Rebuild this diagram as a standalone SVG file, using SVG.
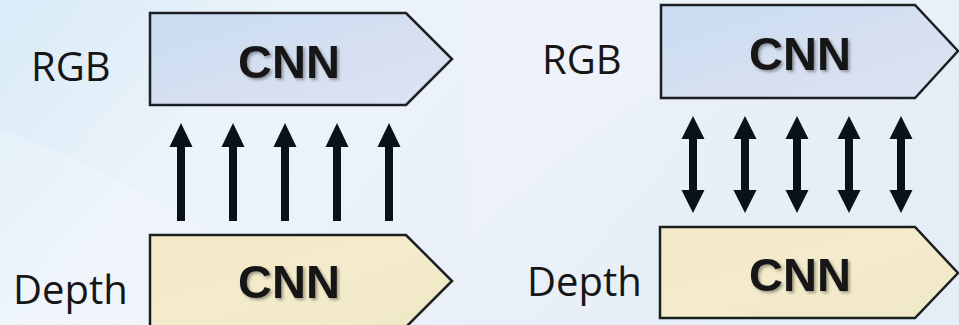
<svg xmlns="http://www.w3.org/2000/svg" width="959" height="325" viewBox="0 0 959 325">
  <defs>
    <linearGradient id="bg" x1="0" y1="0" x2="1" y2="0.3">
      <stop offset="0" stop-color="#d8ebf7"/>
      <stop offset="0.3" stop-color="#ecf3fa"/>
      <stop offset="0.6" stop-color="#ebf1f8"/>
      <stop offset="1" stop-color="#e5edf6"/>
    </linearGradient>
    <linearGradient id="blueFill" x1="0" y1="0" x2="1" y2="1">
      <stop offset="0" stop-color="#c8dcf1"/>
      <stop offset="0.5" stop-color="#d5dff1"/>
      <stop offset="1" stop-color="#dde3f2"/>
    </linearGradient>
    <linearGradient id="yellowFill" x1="0" y1="0" x2="1" y2="1">
      <stop offset="0" stop-color="#f1e9c6"/>
      <stop offset="0.5" stop-color="#f3ebcb"/>
      <stop offset="1" stop-color="#efe8c6"/>
    </linearGradient>
    <filter id="shadow" x="-10%" y="-10%" width="130%" height="140%">
      <feDropShadow dx="2" dy="2" stdDeviation="1.5" flood-color="#000" flood-opacity="0.35"/>
    </filter>
    <path id="upArrow" d="M0,123 L11.5,147 L4,147 L4,221 L-4,221 L-4,147 L-11.5,147 Z"/>
    <path id="dblArrow" d="M0,116 L11.5,139 L4,139 L4,190 L11.5,190 L0,213 L-11.5,190 L-4,190 L-4,139 L-11.5,139 Z"/>
  </defs>
  <style>
    .box-blue { fill: url(#blueFill); stroke: #1c1f22; stroke-width: 2.5; stroke-linejoin: miter; }
    .box-yellow { fill: url(#yellowFill); stroke: #1c1f22; stroke-width: 2.5; stroke-linejoin: miter; }
    .cnn { font-family: "Liberation Sans", Arial, sans-serif; font-weight: bold; font-size: 47px; fill: #151515; text-anchor: middle; filter: url(#shadow); }
    .label { font-family: "Open Sans", "Liberation Sans", sans-serif; font-size: 40px; fill: #161616; }
    .arrow { fill: #0b1118; }
  </style>

  <rect width="959" height="325" fill="url(#bg)"/>
  <path d="M0,130 C120,170 260,260 340,325 L0,325 Z" fill="#ffffff" opacity="0.18"/>
  <path d="M470,240 C560,150 660,80 760,40 L959,40 L959,0 L470,0 Z" fill="#ffffff" opacity="0.15"/>

  <g id="left-rgb-label"><text class="label" x="31" y="81">RGB</text></g>
  <g id="left-depth-label"><text class="label" x="13" y="304">Depth</text></g>
  <g id="right-rgb-label"><text class="label" x="542" y="74">RGB</text></g>
  <g id="right-depth-label"><text class="label" x="527" y="296">Depth</text></g>

  <g id="left-rgb-cnn">
    <polygon class="box-blue" points="150,13 406,13 452,59 406,105 150,105"/>
    <text class="cnn" x="289" y="78">CNN</text>
  </g>
  <g id="left-depth-cnn">
    <polygon class="box-yellow" points="150,235 406,235 452,281 406,327 150,327"/>
    <text class="cnn" x="289" y="298">CNN</text>
  </g>
  <g id="right-rgb-cnn">
    <polygon class="box-blue" points="661,5 915,5 958,51 915,98 661,98"/>
    <text class="cnn" x="800" y="70">CNN</text>
  </g>
  <g id="right-depth-cnn">
    <polygon class="box-yellow" points="660,227 915,227 958,273 915,318 660,318"/>
    <text class="cnn" x="800" y="291">CNN</text>
  </g>

  <g id="connectors" class="arrow">
    <use href="#upArrow" x="181"/>
    <use href="#upArrow" x="233"/>
    <use href="#upArrow" x="285"/>
    <use href="#upArrow" x="337"/>
    <use href="#upArrow" x="389"/>
    <use href="#dblArrow" x="693"/>
    <use href="#dblArrow" x="745"/>
    <use href="#dblArrow" x="797"/>
    <use href="#dblArrow" x="849"/>
    <use href="#dblArrow" x="901"/>
  </g>
</svg>
